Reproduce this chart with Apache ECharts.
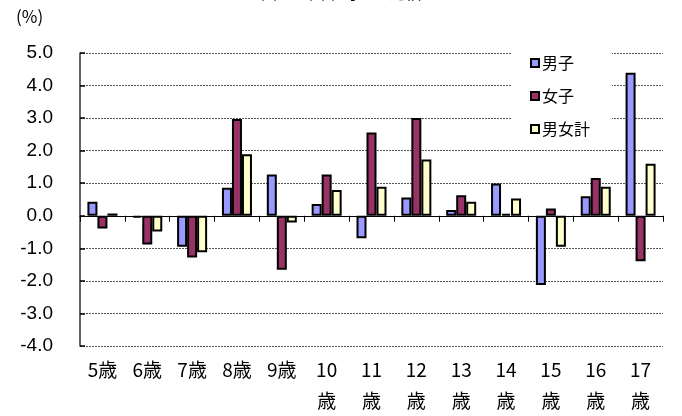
<!DOCTYPE html>
<html>
<head>
<meta charset="utf-8">
<script src="https://cdn.jsdelivr.net/npm/echarts@6/dist/echarts.min.js"></script>
<style>
	html, body { margin: 0; padding: 0; background: #fff; }
	#chart { width: 682px; height: 416px; }
</style>
</head>
<body>
<div id="chart"></div>
<script>
// 年齢区分
const categories = ['5歳', '6歳', '7歳', '8歳', '9歳', '10\n歳', '11\n歳', '12\n歳', '13\n歳', '14\n歳', '15\n歳', '16\n歳', '17\n歳'];
// 全国平均との差（%）
const boys = [0.43, -0.06, -0.95, 0.86, 1.27, 0.36, -0.69, 0.56, 0.18, 0.99, -2.13, 0.6, 4.39];
const girls = [-0.39, -0.88, -1.28, 2.97, -1.66, 1.27, 2.56, 3.0, 0.63, 0.06, 0.22, 1.16, -1.4];
const total = [0.07, -0.48, -1.12, 1.89, -0.21, 0.79, 0.89, 1.73, 0.43, 0.53, -0.95, 0.89, 1.6];
const seriesNames = ['男子', '女子', '男女計'];
const colors = ['#9999FF', '#993366', '#FFFFCC'];

const chart = echarts.init(document.getElementById('chart'));

const jp = '"Noto Sans CJK JP", sans-serif';

function bar(name, data, i) {
	return {
		name: name,
		type: 'bar',
		data: data,
		barWidth: 10,
		barGap: '0%',
		itemStyle: {
			color: colors[i],
			borderColor: '#000',
			borderWidth: 2,
		},
		emphasis: { disabled: true },
	};
}

const option = {
	animation: false,
	title: {
		text: '図　全国平均との比較',
		left: 'center',
		top: -20,
		textStyle: { fontFamily: jp, fontSize: 16, fontWeight: 'normal', color: '#000' },
	},
	graphic: [
		{
			type: 'text',
			left: 16,
			top: 8,
			style: { text: '(%)', font: '17px ' + jp, fill: '#000' },
		},
	],
	legend: {
		orient: 'vertical',
		left: 512,
		top: 48,
		backgroundColor: '#fff',
		padding: [7, 22, 7, 18],
		itemWidth: 8,
		itemHeight: 8,
		itemGap: 17,
		icon: 'rect',
		data: seriesNames,
		textStyle: { fontFamily: jp, fontSize: 16, color: '#000', padding: [0, 0, 0, -2] },
		z: 10,
	},
	grid: {
		left: 80,
		right: 19,
		top: 53,
		bottom: 67,
	},
	xAxis: [
		{
			type: 'category',
			data: categories,
			position: 'bottom',
			axisLine: { show: false, onZero: false },
			axisTick: { show: false },
			axisLabel: {
				fontFamily: jp,
				fontSize: 19,
				color: '#000',
				lineHeight: 31,
				margin: 8,
				interval: 0,
			},
		},
		{
			type: 'category',
			data: categories,
			position: 'top',
			axisLine: { show: true, onZero: true, lineStyle: { color: '#000', width: 1 } },
			axisTick: { show: true, inside: true, length: 6, lineStyle: { color: '#000' } },
			axisLabel: { show: false },
		},
	],
	yAxis: {
		type: 'value',
		min: -4,
		max: 5,
		interval: 1,
		axisLine: { show: true, lineStyle: { color: '#333', width: 1.5 } },
		axisTick: { show: true, inside: true, length: 5, lineStyle: { color: '#000', width: 1.5 } },
		axisLabel: {
			fontFamily: '"Liberation Sans", Arial, sans-serif',
			fontSize: 19,
			color: '#000',
			margin: 27,
			formatter: (v) => v.toFixed(1),
		},
		splitLine: {
			show: true,
			lineStyle: { color: '#555', type: [2, 1], width: 1 },
		},
	},
	series: [bar('男子', boys, 0), bar('女子', girls, 1), bar('男女計', total, 2)],
};

chart.setOption(option);
</script>
</body>
</html>
